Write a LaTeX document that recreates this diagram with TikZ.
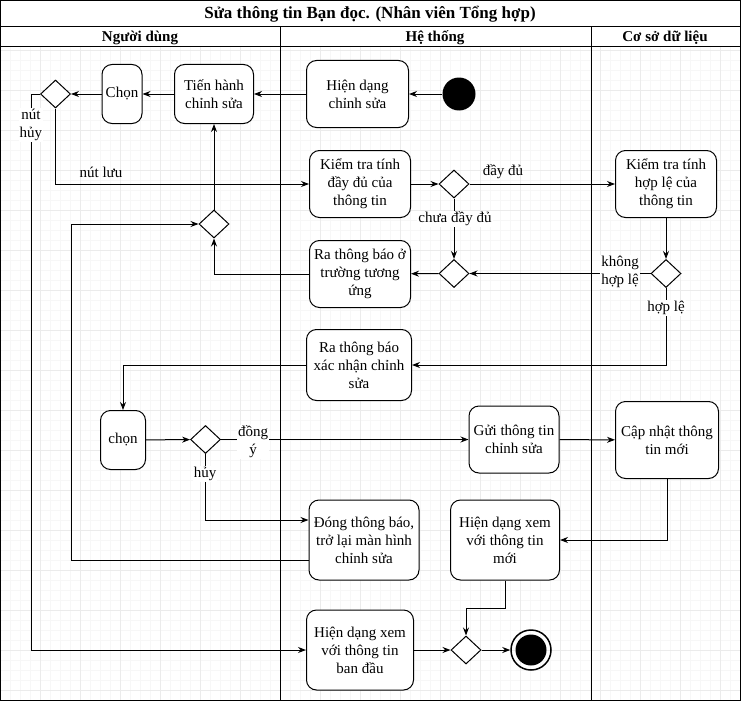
\documentclass[tikz,border=0pt]{standalone}
\usepackage{fontspec}
\setmainfont{Liberation Serif}
\usetikzlibrary{shapes.geometric}
\usetikzlibrary{arrows.meta}
\usetikzlibrary{positioning}

\begin{document}
\begin{tikzpicture}[
    x=1pt, y=-1pt,
    >={Stealth[length=8pt,width=6pt]},
    every node/.style={font=\fontsize{15}{18}\selectfont},
    action/.style={rectangle, draw, rounded corners=10pt, align=center,
      line width=1pt, inner sep=2pt, fill=white},
    decision/.style={diamond, draw, minimum width=30pt, minimum height=28pt,
      inner sep=0pt, line width=1pt, fill=white},
    flow/.style={->, line width=1pt},
    guard/.style={fill=white, inner sep=1pt, align=center},
    lanehead/.style={font=\fontsize{15}{18}\selectfont\bfseries},
    gridminor/.style={black!3, line width=0.6pt},
    gridmajor/.style={black!8, line width=0.8pt},
  ]

  \useasboundingbox (0,0) rectangle (741,701);

  % Background grid
  \foreach \gx in {10,20,...,730} \draw[gridminor] (\gx,47) -- (\gx,700);
  \foreach \gy in {50,60,...,690} \draw[gridminor] (1,\gy) -- (740,\gy);
  \foreach \gx in {40,80,...,720} \draw[gridmajor] (\gx,47) -- (\gx,700);
  \foreach \gy in {50,90,...,690} \draw[gridmajor] (1,\gy) -- (740,\gy);

  % Frame and lanes
  \draw[line width=1pt] (0.5,0.5) rectangle (740.5,700.5);
  \draw[line width=1pt] (0.5,27) -- (740.5,27);
  \draw[line width=1pt] (0.5,47) -- (740.5,47);
  \draw[line width=1pt] (280,27) -- (280,700.5);
  \draw[line width=1pt] (591,27) -- (591,700.5);

  \node[font=\fontsize{17}{18}\selectfont\bfseries] (title) at (370,14)
    {Sửa thông tin Bạn đọc. (Nhân viên Tổng hợp)};
  \node[lanehead] (laneUser) at (140,38) {Người dùng};
  \node[lanehead] (laneSys)  at (435,38) {Hệ thống};
  \node[lanehead] (laneDb)   at (665,38) {Cơ sở dữ liệu};

  % Activities
  \node[circle, fill=black, minimum size=33pt, inner sep=0pt] (start) at (459,94) {};
  \node[action, minimum width=102pt, minimum height=67pt] (showEdit) at (357.5,94) {Hiện dạng\\chỉnh sửa};
  \node[action, minimum width=79pt, minimum height=59pt] (edit) at (214,94) {Tiến hành\\chỉnh sửa};
  \node[action, minimum width=40pt, minimum height=59pt] (choose) at (122,94) {Chọn};
  \node[decision] (dSave) at (55.5,94) {};

  \node[action, minimum width=101pt, minimum height=67pt] (checkFull) at (360,184) {Kiểm tra tính\\đầy đủ của\\thông tin};
  \node[decision] (dFull) at (454,184) {};
  \node[action, minimum width=101pt, minimum height=67pt] (checkValid) at (666,184) {Kiểm tra tính\\hợp lệ của\\thông tin};

  \node[decision] (dBack) at (214,224) {};
  \node[action, minimum width=101pt, minimum height=67pt] (notifyField) at (360,274) {Ra thông báo ở\\trường tương\\ứng};
  \node[decision] (dMiss) at (454,273.5) {};
  \node[decision] (dValid) at (666,273.5) {};

  \node[action, minimum width=105pt, minimum height=71pt] (confirm) at (359,365) {Ra thông báo\\xác nhận chỉnh\\sửa};

  \node[action, minimum width=45pt, minimum height=59pt] (choose2) at (123,440) {chọn};
  \node[decision] (dAgree) at (205.5,439.5) {};
  \node[action, minimum width=90pt, minimum height=67pt] (send) at (514,439.5) {Gửi thông tin\\chỉnh sửa};
  \node[action, minimum width=103pt, minimum height=77pt] (update) at (667,440) {Cập nhật thông\\tin mới};

  \node[action, minimum width=110pt, minimum height=80pt] (close) at (364,540) {Đóng thông báo,\\trở lại màn hình\\chỉnh sửa};
  \node[action, minimum width=109pt, minimum height=80pt] (viewNew) at (505,540) {Hiện dạng xem\\với thông tin\\mới};

  \node[action, minimum width=107pt, minimum height=80pt] (viewOld) at (360,650) {Hiện dạng xem\\với thông tin\\ban đầu};
  \node[decision] (dMerge) at (466,650) {};
  \node[circle, draw, line width=1.5pt, minimum size=40pt, inner sep=0pt] (finish) at (531,650) {};
  \node[circle, fill=black, minimum size=31pt, inner sep=0pt] (finishDot) at (finish) {};

  % Bend points
  \coordinate (cancelLeft) at (31,94);
  \coordinate (backLeft) at (71,560);
  \coordinate (mergeBend) at (505,608);

  % Top row
  \draw[flow] (start) -- (showEdit);
  \draw[flow] (showEdit) -- (edit);
  \draw[flow] (edit) -- (choose);
  \draw[flow] (choose) -- (dSave);
  \draw[flow] (dSave.west) -- (cancelLeft) |- (viewOld.west);
  \node[guard] (lblCancel) at (31,125) {nút\\hủy};
  \draw[flow] (dSave.south) |- (checkFull.west);
  \node (lblSave) at (101,172) {nút lưu};

  % Checking
  \draw[flow] (checkFull) -- (dFull);
  \draw[flow] (dFull) -- (checkValid);
  \node (lblFull) at (503,172) {đầy đủ};
  \draw[flow] (dFull) -- (dMiss);
  \node[guard] (lblMiss) at (455,219) {chưa đầy đủ};
  \draw[flow] (checkValid) -- (dValid);
  \draw[flow] (dValid) -- (dMiss);
  \node[guard] (lblInvalid) at (620,272) {không\\hợp lệ};
  \draw[flow] (dMiss) -- (notifyField);
  \draw[flow] (notifyField.west) -| (dBack.south);
  \draw[flow] (dBack) -- (edit);
  \draw[flow] (dValid.south) |- (confirm.east);
  \node[guard] (lblValid) at (666,308) {hợp lệ};

  % Confirmation
  \draw[flow] (confirm.west) -| (choose2.north);
  \draw[flow] (choose2) -- (dAgree);
  \draw[flow] (dAgree) -- (send);
  \node[guard] (lblAgree) at (253,442) {đồng\\ý};
  \draw[flow] (dAgree.south) |- ([yshift=20pt]close.west);
  \node[guard] (lblNo) at (205,474) {hủy};
  \draw[flow] ([yshift=-20pt]close.west) -- (backLeft) |- (dBack.west);
  \draw[flow] (send) -- (update);
  \draw[flow] (update.south) |- (viewNew.east);

  % End
  \draw[flow] (viewNew.south) -- (mergeBend) -| (dMerge.north);
  \draw[flow] (viewOld) -- (dMerge);
  \draw[flow] (dMerge) -- (finish);

\end{tikzpicture}
\end{document}
